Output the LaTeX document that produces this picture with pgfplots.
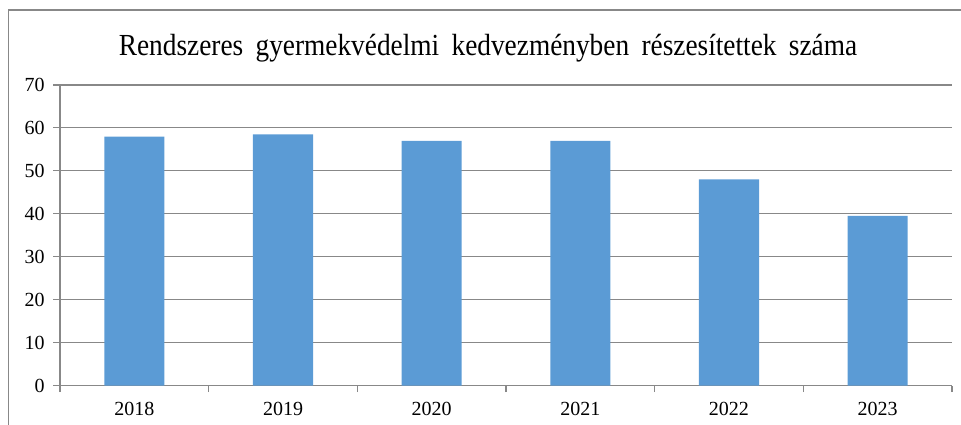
\documentclass[border=0pt]{standalone}
\usepackage{pgfplots}
\pgfplotsset{compat=1.18}
\usepackage{fontspec}
\setmainfont{Liberation Serif}
\definecolor{barblue}{HTML}{5B9BD5}
\definecolor{gridgray}{HTML}{888888}
\begin{document}
\begin{tikzpicture}
\useasboundingbox (0,0) rectangle (720.75pt,318.75pt);
% chart frame (only left and top edges visible)
\draw[gridgray, line width=0.8pt] (6.4pt,0) -- (6.4pt,311.25pt) -- (720.75pt,311.25pt);
\node[anchor=base, inner sep=0pt] at (366pt,276.75pt)
  {\scalebox{1}[1.12]{\fontsize{20.5}{24}\selectfont\spaceskip=0.45em
   Rendszeres gyermekvédelmi kedvezményben részesítettek száma}};
\begin{axis}[
  at={(45pt,29.6pt)}, anchor=south west,
  scale only axis, width=669pt, height=225.4pt,
  ymin=0, ymax=70, ytick={0,10,...,70},
  xmin=-0.5, xmax=5.5,
  xtick={0,...,5},
  xticklabels={2018,2019,2020,2021,2022,2023},
  minor xtick={-0.5,0.5,...,5.5},
  axis lines*=left,
  axis line style={gridgray, line width=0.8pt},
  ymajorgrids,
  grid style={gridgray, line width=0.8pt},
  major x tick style={draw=none},
  major y tick style={gridgray, line width=0.8pt},
  minor x tick style={gridgray, line width=0.8pt},
  major tick length=5pt, minor tick length=5pt,
  tick align=outside,
  ticklabel style={font=\fontsize{15}{18}\selectfont},
  /pgf/number format/assume math mode=true,
  yticklabel style={xshift=-3pt},
  xticklabel style={yshift=-4pt},
]
\addplot[ybar, bar width=45pt, fill=barblue, draw=none] coordinates {
  (0,58) (1,58.5) (2,57) (3,57) (4,48) (5,39.5)
};
\end{axis}
\end{tikzpicture}
\end{document}
